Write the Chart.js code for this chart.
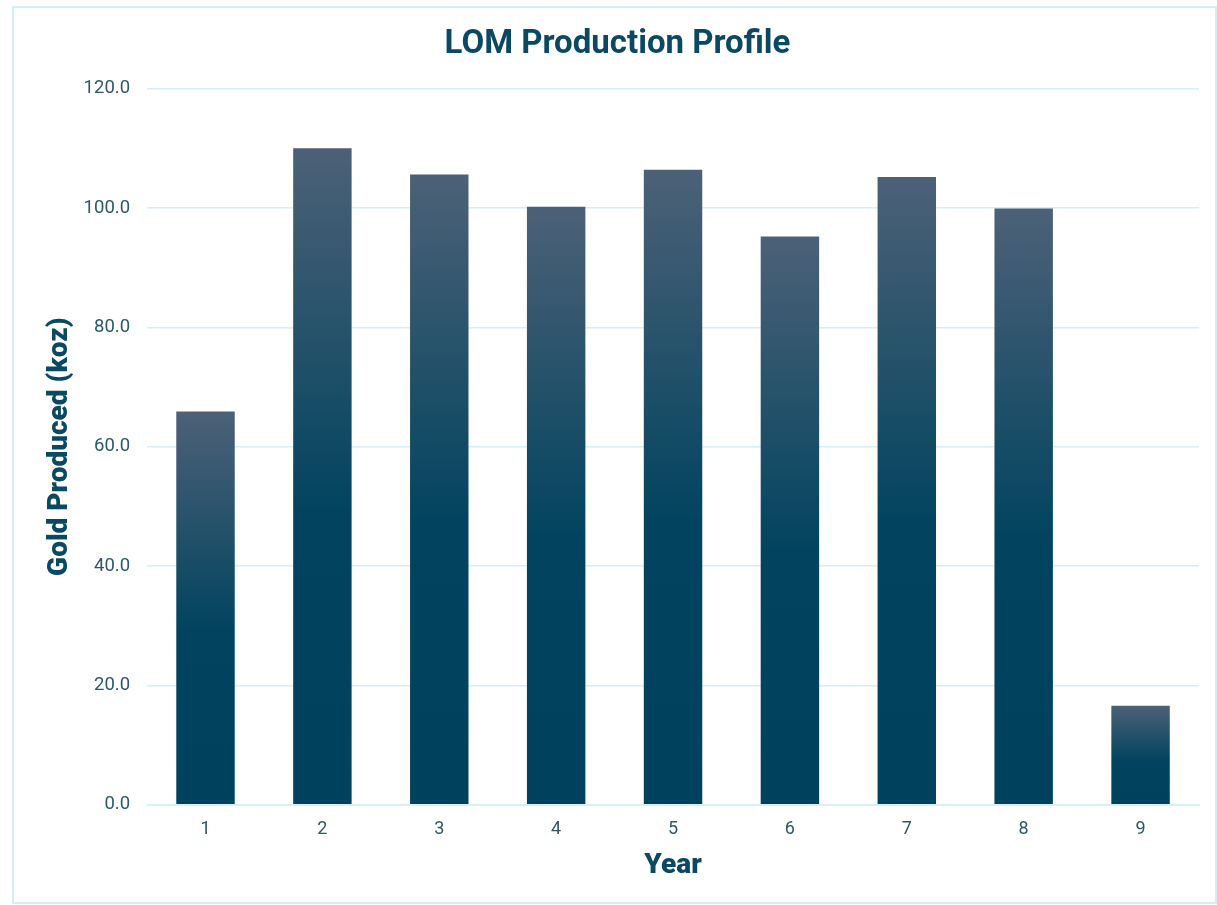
<!DOCTYPE html>
<html>
<head>
<meta charset="utf-8">
<script src="https://cdn.jsdelivr.net/npm/chart.js@4"></script>
<style>
  html, body { margin: 0; padding: 0; background: #fff; }
  #box {
    position: absolute; left: 12px; top: 6px; width: 1205px; height: 898px;
    border: 2px solid #d3eef7; box-sizing: border-box;
  }
  #wrap { position: absolute; left: 0; top: 0; width: 1217px; height: 905px; }
</style>
</head>
<body>
<div id="box"></div>
<div id="wrap"><canvas id="prodChart"></canvas></div>
<script>
// data
const years = ['1', '2', '3', '4', '5', '6', '7', '8', '9'];
const goldKoz = [65.9, 110.0, 105.6, 100.2, 106.4, 95.2, 105.2, 99.9, 16.6];
const yTicks = [0, 20, 40, 60, 80, 100, 120];

const darkBlue = '#0b4963';
const tickCol = '#2e5866';

// gradient for each bar, from its own top to the axis
function barFill(context) {
    const chart = context.chart;
    if (!chart.chartArea || context.parsed == null) return '#0a4662';
    const yScale = chart.scales.y;
    const top = yScale.getPixelForValue(context.parsed.y);
    const bottom = yScale.getPixelForValue(0);
    if (!isFinite(top) || !isFinite(bottom) || top === bottom) return '#0a4662';
    const g = chart.ctx.createLinearGradient(0, top, 0, bottom);
    g.addColorStop(0, '#4c6177');
    g.addColorStop(0.55, '#02445f');
    g.addColorStop(1, '#00425d');
    return g;
}

document.addEventListener('DOMContentLoaded', function () {
    const ctx = document.getElementById('prodChart').getContext('2d');
    new Chart(ctx, {
        type: 'bar',
        data: {
            labels: years,
            datasets: [{
                label: 'Gold Produced (koz)',
                data: goldKoz,
                backgroundColor: barFill,
                borderWidth: 0,
                barPercentage: 0.5,
                categoryPercentage: 1.0
            }]
        },
        options: {
            responsive: true,
            maintainAspectRatio: false,
            animation: false,
            layout: { padding: { left: 36, right: 18, top: 8, bottom: 19 } },
            scales: {
                y: {
                    min: 0,
                    max: 120,
                    afterBuildTicks: function (axis) {
                        axis.ticks = yTicks.map(v => ({ value: v }));
                    },
                    grid: { color: '#d6eef6', lineWidth: 1.5, drawTicks: false },
                    border: { display: false },
                    ticks: {
                        padding: 17,
                        color: tickCol,
                        font: { family: 'Roboto', size: 18.5 },
                        callback: v => v.toFixed(1)
                    },
                    title: {
                        display: true,
                        text: 'Gold Produced (koz)',
                        color: darkBlue,
                        font: { family: 'Roboto', size: 28, weight: 900 },
                        padding: { top: 7, bottom: -10 }
                    }
                },
                x: {
                    grid: { display: false, drawTicks: false },
                    border: { display: true, color: '#d6eef6', width: 1.5 },
                    ticks: {
                        padding: 14,
                        color: tickCol,
                        font: { family: 'Roboto', size: 18 }
                    },
                    title: {
                        display: true,
                        text: 'Year',
                        color: darkBlue,
                        font: { family: 'Roboto', size: 28, weight: 900 },
                        padding: { top: -5, bottom: 3 }
                    }
                }
            },
            plugins: {
                title: {
                    display: true,
                    text: 'LOM Production Profile',
                    color: darkBlue,
                    font: { family: 'Roboto', size: 33, weight: 'bold' },
                    padding: { top: 17, bottom: 24 }
                },
                legend: { display: false },
                tooltip: { enabled: false }
            }
        }
    });
});
</script>
</body>
</html>
